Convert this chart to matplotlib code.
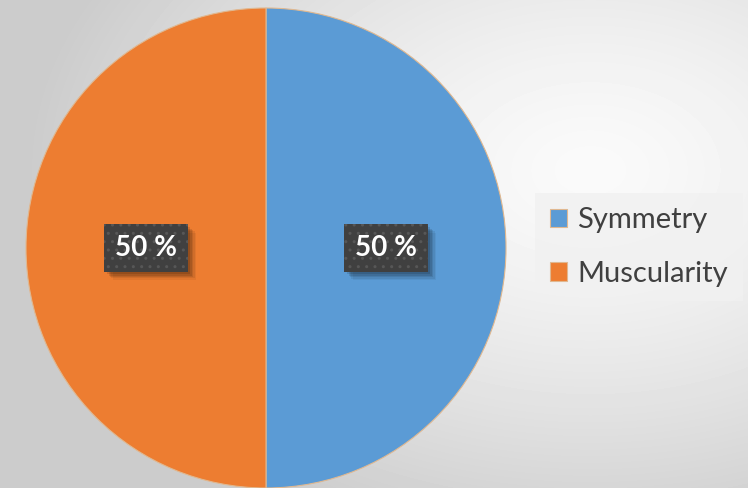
import numpy as np
import matplotlib.pyplot as plt
from matplotlib import patheffects

categories = ['Symmetry', 'Muscularity']
values = [50, 50]
colors = ['#5B9BD5', '#ED7D31']

plt.rcParams['font.family'] = ['Lato', 'DejaVu Sans']

W, H = 748, 488
fig = plt.figure(figsize=(W / 100, H / 100), dpi=100)

# soft radial background
bg = fig.add_axes([0, 0, 1, 1])
yy, xx = np.mgrid[0:H, 0:W]
d = np.sqrt(((xx - 590) / 560.0) ** 2 + ((yy - 170) / 380.0) ** 2)
shade = 250 - 46 * np.clip(d, 0, 1) ** 1.4
bg.imshow(shade, cmap='gray', vmin=0, vmax=255, extent=[0, W, H, 0], aspect='auto')
bg.set_axis_off()

# pie axes: centre (266, 248), radius 240 px
ax = fig.add_axes([26 / W, 0, 480 / W, 480 / H])
label_font = dict(fontsize=20, fontweight='bold')
wedges, texts, autotexts = ax.pie(
    values, colors=colors, startangle=90, counterclock=False,
    autopct=lambda p: f'{p:.0f} %', pctdistance=0.5,
    wedgeprops=dict(edgecolor='#e0b890', linewidth=0.8),
    textprops=dict(color='white', **label_font))
ax.set_xlim(-1, 1)
ax.set_ylim(-1, 1)
ax.set_aspect('equal')

box_style = 'square,pad=0.38'
shadow = [patheffects.SimplePatchShadow(offset=(k, -k), alpha=a, shadow_rgbFace='black')
          for k, a in [(6, 0.05), (5, 0.07), (4, 0.09), (3, 0.11), (2, 0.12)]]
for t in autotexts:
    # soft shadow drawn from a plain copy of the box, behind the patterned box
    x, y = t.get_position()
    ghost = ax.text(x, y, t.get_text(), ha='center', va='center',
                    color=(0, 0, 0, 0), zorder=t.get_zorder() - 0.1, **label_font)
    ghost.set_bbox(dict(boxstyle=box_style, facecolor='#404040', linewidth=0))
    ghost.get_bbox_patch().set_path_effects(shadow)
    t.set_bbox(dict(boxstyle=box_style, facecolor='#404040',
                    edgecolor='#575757', linewidth=0, hatch='..'))

leg = fig.legend(wedges, categories, loc='center left',
                 bbox_to_anchor=(535 / W, 1 - 247 / H),
                 fontsize=21, frameon=True, fancybox=False,
                 handlelength=0.6, handleheight=0.6, handletextpad=0.35,
                 labelspacing=0.95, borderpad=0.5, borderaxespad=0)
leg.get_frame().set_facecolor('#f1f1f1')
leg.get_frame().set_edgecolor('none')
for txt in leg.get_texts():
    txt.set_color('#404040')

fig.savefig('out.png', dpi=100)
